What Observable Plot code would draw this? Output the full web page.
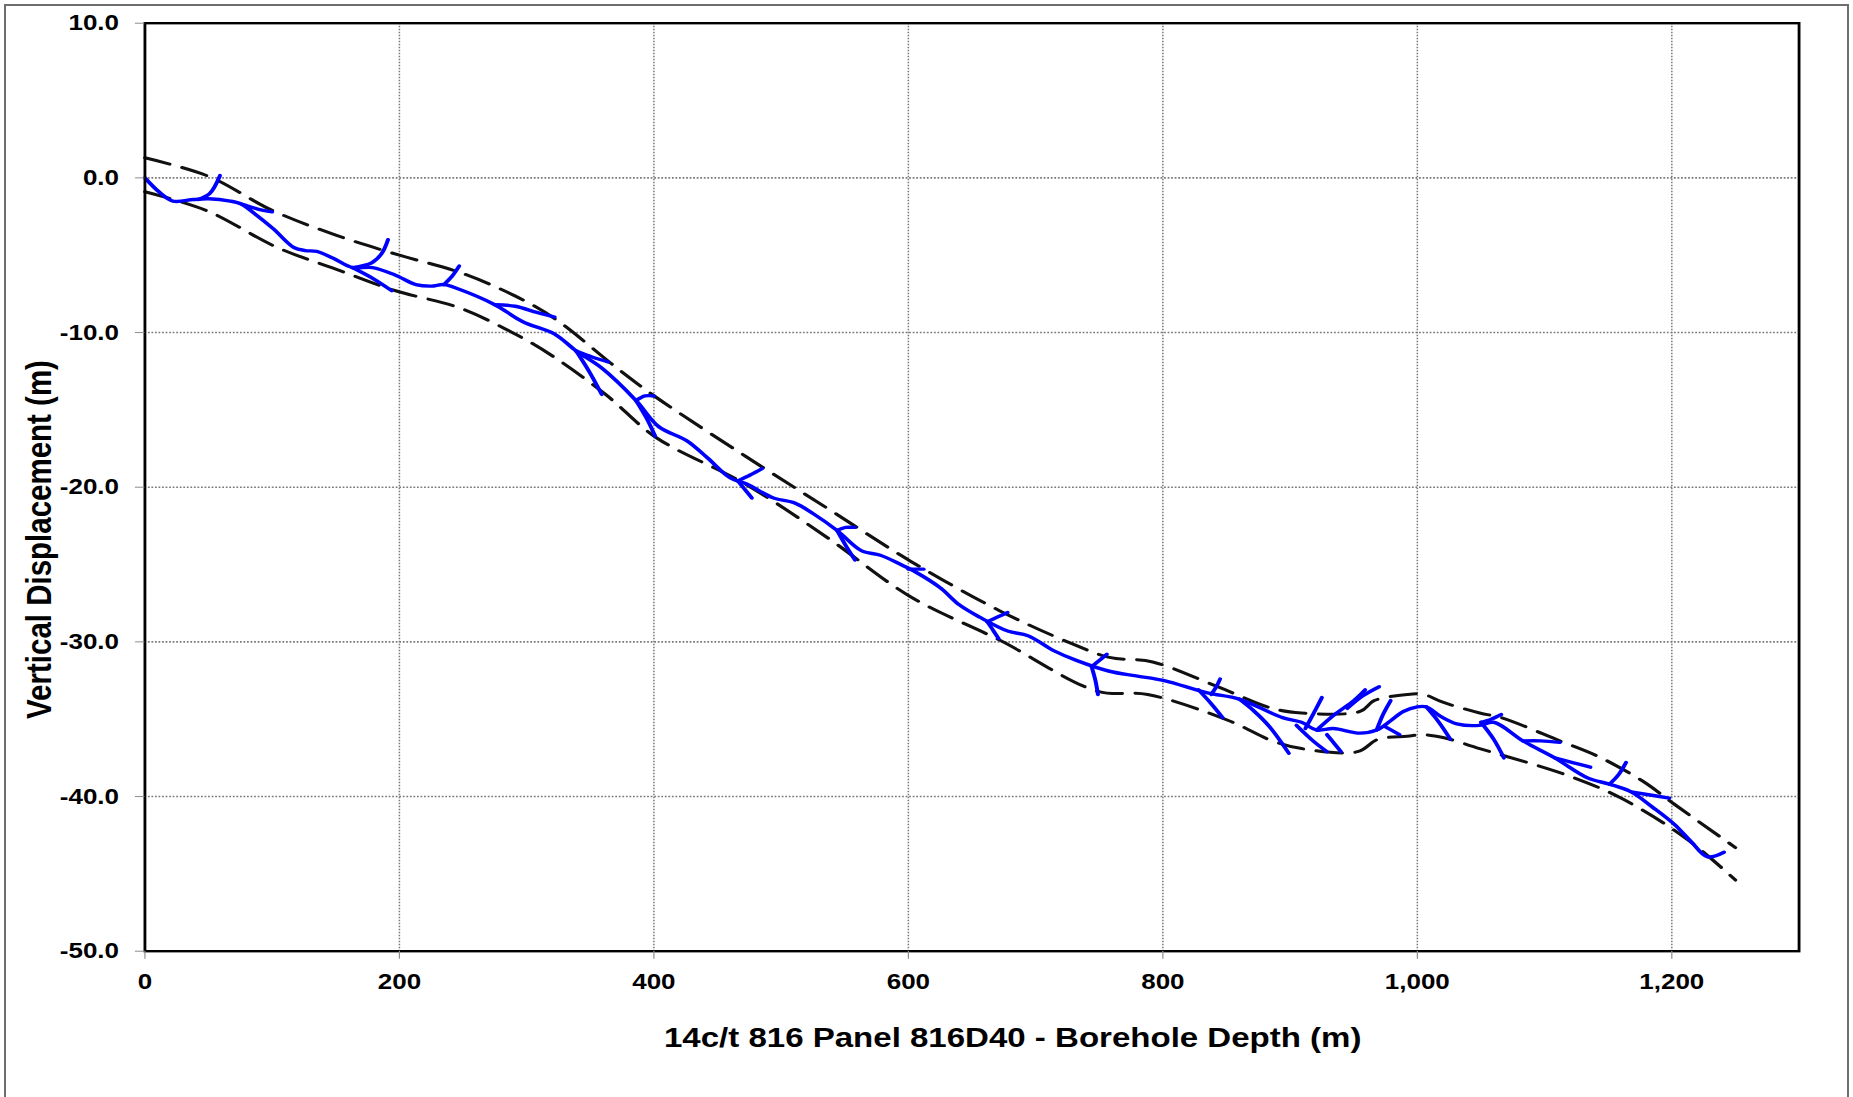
<!DOCTYPE html>
<html><head><meta charset="utf-8">
<script src="https://cdn.jsdelivr.net/npm/d3@7"></script>
<script src="https://cdn.jsdelivr.net/npm/@observablehq/plot@0.6"></script>
<style>
html,body{margin:0;padding:0;background:#fff;}
#wrap{position:relative;width:1853px;height:1097px;overflow:hidden;background:#fff;}
#border{position:absolute;left:4px;top:4px;width:1845px;height:1200px;border:2px solid #6e6e6e;box-sizing:border-box;pointer-events:none;}
</style></head><body>
<div id="wrap"><div id="chart"></div><div id="border"></div></div>
<script>
// ---- data (depth in m, vertical displacement in m) ----
const xTicks = [0, 200, 400, 600, 800, 1000, 1200];
const yTicks = [10, 0, -10, -20, -30, -40, -50];
const xTitle = "14c/t 816 Panel 816D40 - Borehole Depth (m)";
const yTitle = "Vertical Displacement (m)";

const mainDepth = [0,11,22,38,50,67,76,86,101,117,126,135,148,163,179,197,213,225,235,247,275,297,322,339,359,386,404,426,442,460,473,494,510,525,544,563,578,594,606,625,640,656,678,694,715,732,758,779,801,835,860,894,909,921,934,955,968,979,989,1000,1007,1018,1031,1049,1060,1083,1108,1134,1151,1168,1185,1202,1215,1228,1241];
const mainDisp = [0,-0.9,-1.5,-1.4,-1.35,-1.5,-1.7,-2.3,-3.3,-4.5,-4.7,-4.75,-5.2,-5.8,-5.8,-6.3,-6.9,-7.0,-6.9,-7.2,-8.2,-9.3,-10.1,-11.2,-12.3,-14.4,-16.1,-17.0,-18.1,-19.4,-19.8,-20.7,-21.0,-21.7,-22.8,-24.1,-24.4,-25.0,-25.5,-26.5,-27.6,-28.4,-29.3,-29.6,-30.6,-31.2,-31.9,-32.2,-32.5,-33.3,-33.7,-34.9,-35.2,-35.7,-35.6,-35.9,-35.7,-35.1,-34.5,-34.2,-34.2,-34.8,-35.3,-35.4,-35.2,-36.4,-37.5,-38.8,-39.2,-39.7,-40.7,-41.8,-42.9,-43.9,-43.6];

const upperDepth = [0,50,100,150,200,247,290,322,371,402,472,537,602,672,728,758,792,843,886,909,955,966,992,1005,1020,1049,1066,1112,1142,1177,1202,1250];
const upperDisp = [1.3,0.1,-2.1,-3.7,-5.0,-6.1,-7.6,-9.1,-12.3,-14.2,-18.0,-21.4,-24.8,-28.0,-30.1,-31.0,-31.3,-32.9,-34.3,-34.6,-34.5,-33.8,-33.4,-33.4,-33.9,-34.6,-34.9,-36.4,-37.4,-39.0,-40.5,-43.3];

const lowerDepth = [0,48,104,150,197,247,291,320,362,402,472,537,602,672,749,788,852,886,909,953,969,992,1005,1021,1049,1117,1160,1211,1250];
const lowerDisp = [-0.9,-2.1,-4.5,-5.9,-7.3,-8.4,-10.1,-11.5,-14.0,-16.8,-19.8,-23.3,-27.1,-29.9,-33.2,-33.4,-35.1,-36.4,-36.9,-37.1,-36.3,-36.1,-36.0,-36.2,-36.9,-38.6,-40.1,-42.7,-45.4];

// short blue survey branches: [depth, displacement] pairs
const branchSegments = [
 [[42,-1.4],[51,-1.0],[59,0.15]],
 [[76,-1.7],[88,-2.0],[100,-2.2]],
 [[163,-5.8],[178,-5.5],[186,-4.9],[191,-4.0]],
 [[163,-5.8],[179,-6.5],[194,-7.3]],
 [[235,-6.9],[241,-6.4],[247,-5.7]],
 [[275,-8.2],[291,-8.3],[308,-8.7],[322,-9.0]],
 [[339,-11.2],[352,-11.6],[364,-11.9]],
 [[339,-11.2],[349,-12.5],[359,-14.0]],
 [[386,-14.4],[393,-14.1],[400,-14.1]],
 [[386,-14.4],[394,-15.5],[401,-16.7]],
 [[466,-19.6],[476,-19.2],[485,-18.8]],
 [[466,-19.6],[472,-20.2],[477,-20.7]],
 [[544,-22.8],[551,-22.6],[558,-22.6]],
 [[544,-22.8],[551,-23.8],[558,-24.7]],
 [[600,-25.3],[612,-25.3]],
 [[662,-28.7],[670,-28.4],[678,-28.1]],
 [[662,-28.7],[667,-29.3],[671,-29.8]],
 [[744,-31.6],[750,-31.2],[756,-30.8]],
 [[744,-31.6],[747,-32.5],[749,-33.4]],
 [[838,-33.4],[842,-32.9],[845,-32.4]],
 [[828,-33.1],[838,-34.0],[847,-34.9]],
 [[860,-33.7],[872,-34.5],[884,-35.5],[899,-37.2]],
 [[912,-35.6],[918,-34.7],[925,-33.6]],
 [[905,-35.4],[918,-36.4],[929,-37.1]],
 [[929,-36.0],[935,-36.6],[940,-37.1]],
 [[921,-35.7],[935,-34.7],[950,-33.8],[959,-33.1]],
 [[945,-34.3],[957,-33.5],[970,-32.9]],
 [[968,-35.7],[973,-34.7],[979,-33.8]],
 [[975,-35.5],[986,-36.0]],
 [[1007,-34.2],[1017,-35.2],[1026,-36.3]],
 [[1050,-35.2],[1058,-35.0],[1066,-34.7]],
 [[1050,-35.2],[1060,-36.3],[1068,-37.5]],
 [[1083,-36.4],[1097,-36.4],[1112,-36.5]],
 [[1108,-37.5],[1122,-37.8],[1136,-38.1]],
 [[1151,-39.2],[1158,-38.6],[1164,-37.8]],
 [[1168,-39.7],[1183,-39.9],[1198,-40.1]]
];

// ---- build tables ----
const toRows = (xs, ys) => xs.map((d, i) => ({depth: d, disp: ys[i]}));
const mainRows = toRows(mainDepth, mainDisp);
const upperRows = toRows(upperDepth, upperDisp);
const lowerRows = toRows(lowerDepth, lowerDisp);
const branchRows = branchSegments.flatMap((seg, k) => seg.map(([d, v]) => ({id: k, depth: d, disp: v})));

// The reference picture is horizontally stretched; draw at an internal width and stretch the SVG.
const OUT_W = 1853, H = 1097, W = 1570;
const font = "'Liberation Sans', Arial, Helvetica, sans-serif";

const chart = Plot.plot({
  width: W,
  height: H,
  marginLeft: 122.3,
  marginRight: 46.2,
  marginTop: 22.7,
  marginBottom: 146.3,
  style: {fontFamily: font, fontWeight: "bold", fontSize: "22px", background: "white", color: "black"},
  x: {domain: [0, 1300]},
  y: {domain: [-50, 10]},
  marks: [
    Plot.gridX(xTicks, {stroke: "#7a7a7a", strokeOpacity: 1, strokeWidth: 1.3, strokeDasharray: "1.5,1.5"}),
    Plot.gridY(yTicks, {stroke: "#7a7a7a", strokeOpacity: 1, strokeWidth: 1.6, strokeDasharray: "1.5,1.5"}),
    Plot.line(upperRows, {x: "depth", y: "disp", stroke: "#111", strokeWidth: 3, strokeDasharray: "22,11", curve: "catmull-rom"}),
    Plot.line(lowerRows, {x: "depth", y: "disp", stroke: "#111", strokeWidth: 3, strokeDasharray: "22,11", curve: "catmull-rom"}),
    Plot.line(branchRows, {x: "depth", y: "disp", z: "id", stroke: "#0000ff", strokeWidth: 3.4, curve: "catmull-rom"}),
    Plot.line(mainRows, {x: "depth", y: "disp", stroke: "#0000ff", strokeWidth: 3.4, curve: "catmull-rom"}),
    Plot.frame({stroke: "black", strokeWidth: 2.4}),
    Plot.axisX({ticks: xTicks, tickFormat: d3.format(","), tickSize: 8, tickPadding: 14, stroke: "#8c8c8c", fill: "black", fontSize: 22, label: null}),
    Plot.axisY({ticks: yTicks, tickFormat: d => d.toFixed(1), tickSize: 8, tickPadding: 14, stroke: "#8c8c8c", fill: "black", fontSize: 22, label: null}),
    Plot.text([xTitle], {text: d => d, frameAnchor: "bottom", dx: 34.5, dy: 96, lineAnchor: "bottom", textAnchor: "middle", fontSize: 28, fontWeight: "bold", fill: "black"}),
    Plot.text([yTitle], {text: d => d, frameAnchor: "left", rotate: -90, dx: -79.9, dy: 52.3, lineAnchor: "bottom", textAnchor: "middle", fontSize: 29.5, fontWeight: "bold", fill: "black"})
  ]
});

chart.setAttribute("width", OUT_W);
chart.setAttribute("height", H);
chart.setAttribute("viewBox", `0 0 ${W} ${H}`);
chart.setAttribute("preserveAspectRatio", "none");
chart.style.maxWidth = "none";
chart.style.width = OUT_W + "px";
chart.style.height = H + "px";
chart.style.display = "block";
document.getElementById("chart").appendChild(chart);
</script>
</body></html>
